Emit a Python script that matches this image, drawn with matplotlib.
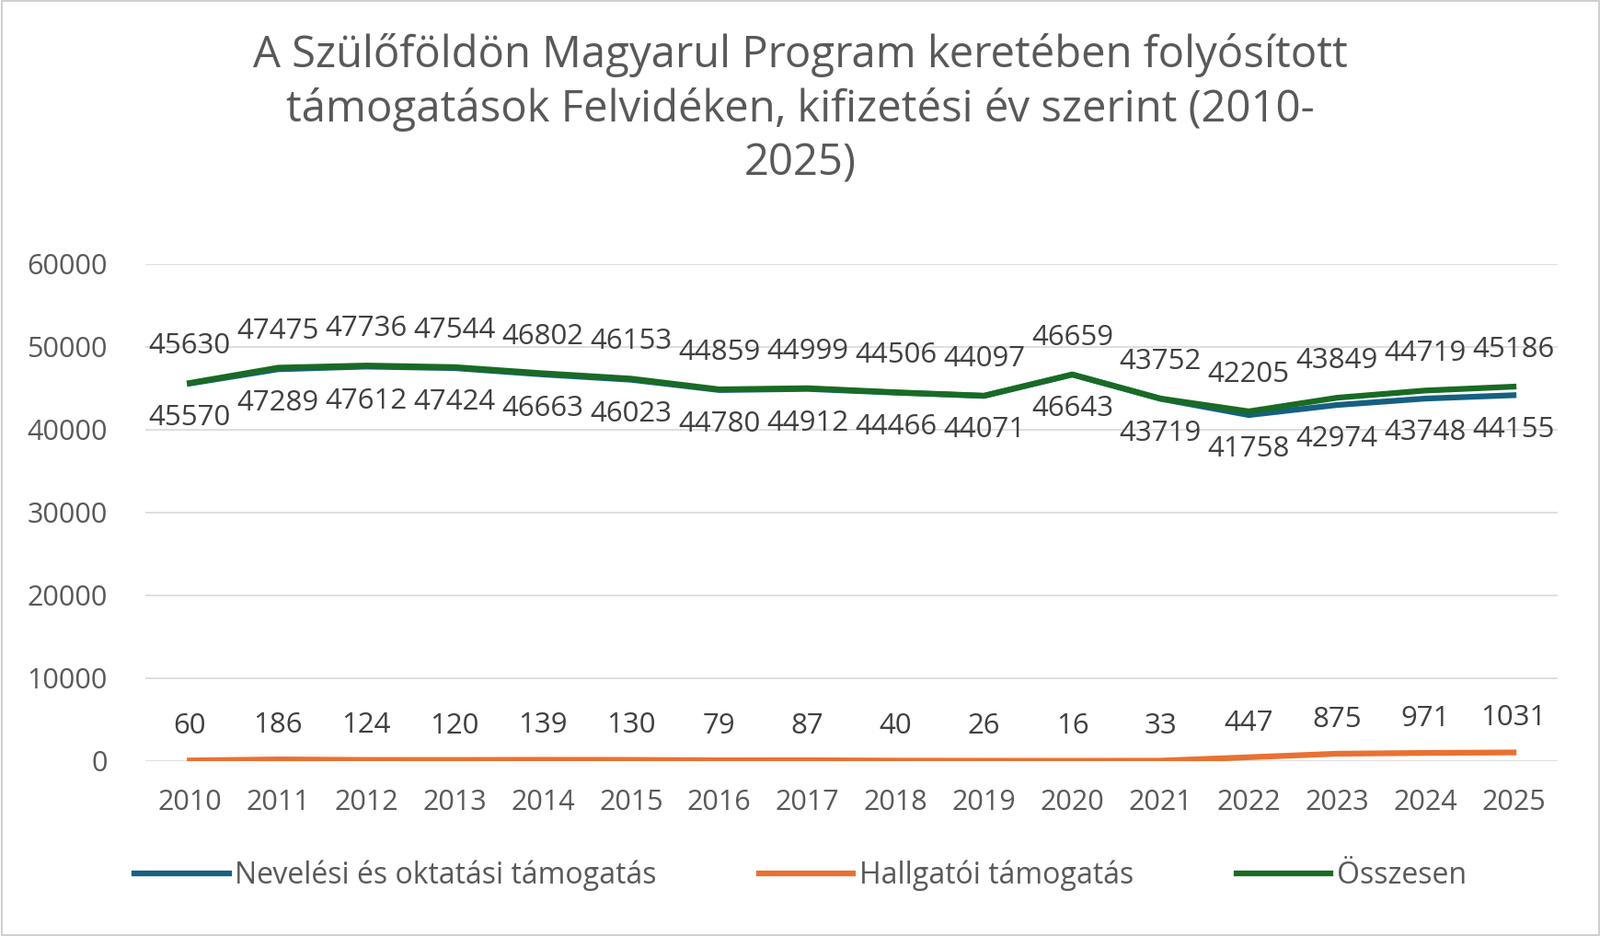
import matplotlib.pyplot as plt
from matplotlib.patches import Rectangle

years = [str(y) for y in range(2010, 2026)]
neveles = [45570, 47289, 47612, 47424, 46663, 46023, 44780, 44912, 44466, 44071,
           46643, 43719, 41758, 42974, 43748, 44155]
hallgatoi = [60, 186, 124, 120, 139, 130, 79, 87, 40, 26, 16, 33, 447, 875, 971, 1031]
osszesen = [45630, 47475, 47736, 47544, 46802, 46153, 44859, 44999, 44506, 44097,
            46659, 43752, 42205, 43849, 44719, 45186]

plt.rcParams['font.family'] = 'Open Sans'
gray = '#595959'
fig = plt.figure(figsize=(17.4, 10.17), dpi=100)
ax = fig.add_axes([0.091, 0.187, 0.882, 0.531])
x = range(len(years))

ax.plot(x, neveles, color='#156082', lw=4.5, label='Nevelési és oktatási támogatás')
ax.plot(x, hallgatoi, color='#E97132', lw=4.5, label='Hallgatói támogatás')
ax.plot(x, osszesen, color='#196B24', lw=4.5, label='Összesen')

for i in x:
    ax.annotate(str(osszesen[i]), (i, osszesen[i]), xytext=(0, 18), textcoords='offset points',
                ha='center', va='bottom', fontsize=22.5, color='#404040')
    ax.annotate(str(neveles[i]), (i, neveles[i]), xytext=(0, -16), textcoords='offset points',
                ha='center', va='top', fontsize=22.5, color='#404040')
    ax.annotate(str(hallgatoi[i]), (i, hallgatoi[i]), xytext=(0, 16), textcoords='offset points',
                ha='center', va='bottom', fontsize=22.5, color='#404040')

ax.set_ylim(0, 60000)
ax.set_yticks(range(0, 60001, 10000))
ax.set_xlim(-0.5, len(years) - 0.5)
ax.set_xticks(list(x))
ax.set_xticklabels(years)
ax.tick_params(labelsize=22, labelcolor=gray, length=0, pad=22)
ax.tick_params(axis='y', pad=30)
ax.grid(axis='y', color='#d9d9d9', lw=1.2)
ax.set_axisbelow(True)
for s in ax.spines.values():
    s.set_visible(False)

fig.suptitle('A Szülőföldön Magyarul Program keretében folyósított\n'
             'támogatások Felvidéken, kifizetési év szerint (2010-\n2025)',
             y=0.965, fontsize=34, color=gray, linespacing=1.3)
fig.legend(loc='lower center', bbox_to_anchor=(0.5, 0.02), ncol=3, frameon=False,
           fontsize=23, labelcolor=gray, handlelength=3.2, handletextpad=0.2,
           columnspacing=3.5)
fig.patches.append(Rectangle((0.001, 0.001), 0.998, 0.998, transform=fig.transFigure,
                             fill=False, edgecolor='#d0d0d0', lw=1.5))
fig.savefig('out.png')
